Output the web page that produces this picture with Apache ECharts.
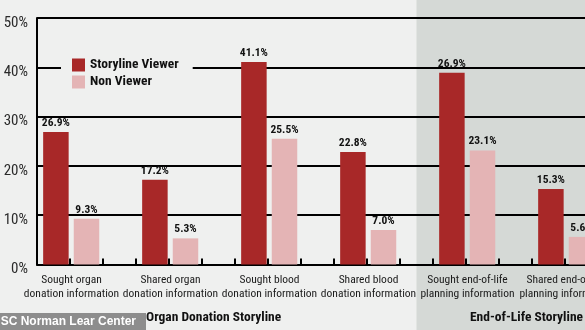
<!DOCTYPE html>
<html>
<head>
<meta charset="utf-8">
<script src="https://cdn.jsdelivr.net/npm/echarts@6/dist/echarts.min.js"></script>
<style>
  html, body { margin: 0; padding: 0; background: #eff0ef; }
  #chart { width: 585px; height: 330px; }
</style>
</head>
<body>
<div id="chart"></div>
<script>
// ---- data ----
const categories = [
  'Sought organ\ndonation information',
  'Shared organ\ndonation information',
  'Sought blood\ndonation information',
  'Shared blood\ndonation information',
  'Sought end-of-life\nplanning information',
  'Shared end-of-life\nplanning information'
];
// bar heights as drawn in the picture (5th bar is drawn at ~38.9 though labelled 26.9%)
const viewerValues = [26.9, 17.2, 41.1, 22.8, 38.9, 15.3];
const viewerLabels = ['26.9%', '17.2%', '41.1%', '22.8%', '26.9%', '15.3%'];
const nonViewerValues = [9.3, 5.3, 25.5, 7.0, 23.1, 5.6];
const nonViewerLabels = ['9.3%', '5.3%', '25.5%', '7.0%', '23.1%', '5.6%'];
const seriesNames = ['Storyline Viewer', 'Non Viewer'];
const groupTitles = ['Organ Donation Storyline', 'End-of-Life Storyline'];
const watermark = 'USC Norman Lear Center';
// tick slots: three per category (viewer bar, non-viewer bar, gap)
const tickSlots = [];
categories.forEach((c, i) => { tickSlots.push(i + 'a', i + 'b', i + 'c'); });

// ---- chart ----
const NARROW = "'Roboto Condensed', 'DejaVu Sans Condensed', sans-serif";
const DARK = '#a82828';
const PINK = '#e4b4b5';

const chart = echarts.init(document.getElementById('chart'), null, { renderer: 'canvas' });

const option = {
  backgroundColor: '#eff0ef',
  animation: false,
  grid: { left: 37, top: 18, width: 594, height: 246.5, containLabel: false, outerBoundsMode: 'none' },
  legend: {
    data: seriesNames,
    orient: 'vertical',
    left: 61,
    top: 52,
    padding: [6, 14, 6, 11],
    backgroundColor: '#eff0ef',
    itemWidth: 13,
    itemHeight: 13,
    itemGap: 3,
    icon: 'rect',
    textStyle: { fontFamily: NARROW, fontWeight: 'bold', fontSize: 13.5, color: '#111' }
  },
  xAxis: [
    {
      type: 'category',
      data: categories,
      axisLine: { show: true, lineStyle: { color: '#000', width: 2 } },
      axisTick: { show: false },
      axisLabel: {
        interval: 0,
        hideOverlap: false,
        fontFamily: NARROW,
        fontSize: 11.5,
        color: '#1a1a1a',
        lineHeight: 14.5,
        margin: 8,
        padding: [0, 30, 0, 0]
      },
      z: 3
    },
    {
      type: 'category',
      data: tickSlots,
      position: 'bottom',
      axisLine: { show: false },
      axisTick: { show: true, inside: true, length: 6, interval: 0, lineStyle: { color: '#000', width: 2 } },
      axisLabel: { show: false },
      splitLine: { show: false }
    }
  ],
  yAxis: {
    type: 'value',
    min: 0,
    max: 50,
    interval: 10,
    axisLine: { show: true, lineStyle: { color: '#000', width: 2 } },
    axisTick: { show: false },
    splitLine: { show: true, lineStyle: { color: '#000', width: 2 } },
    axisLabel: {
      formatter: '{value}%',
      fontFamily: NARROW,
      fontSize: 15,
      color: '#2a2a2a',
      margin: 9,
      verticalAlign: 'top',
      lineHeight: 10
    }
  },
  series: [
    {
      name: seriesNames[0],
      type: 'bar',
      xAxisIndex: 0,
      data: viewerValues,
      barWidth: 25.5,
      barGap: '20%',
      itemStyle: { color: DARK },
      label: {
        show: true, position: 'top', distance: 3,
        fontFamily: NARROW, fontWeight: 'bold', fontSize: 11.5, color: '#111',
        formatter: p => viewerLabels[p.dataIndex]
      },
      z: 5
    },
    {
      name: seriesNames[1],
      type: 'bar',
      xAxisIndex: 0,
      data: nonViewerValues,
      barWidth: 25.5,
      barGap: '20%',
      itemStyle: { color: PINK },
      label: {
        show: true, position: 'top', distance: 3,
        fontFamily: NARROW, fontWeight: 'bold', fontSize: 11.5, color: '#111',
        formatter: p => nonViewerLabels[p.dataIndex]
      },
      z: 5
    },
    {
      name: 'spacer',
      type: 'bar',
      xAxisIndex: 0,
      data: categories.map(() => '-'),
      barWidth: 25.5,
      barGap: '20%',
      silent: true,
      itemStyle: { opacity: 0 }
    }
  ]
};

chart.setOption(option);

// shaded background panel for the End-of-Life group: starts mid-way in the gap slot after category 4
const panelX = chart.convertToPixel({ xAxisIndex: 1 }, tickSlots[11]);
chart.setOption({
  graphic: [
    {
      type: 'rect', z: -10, silent: true,
      shape: { x: panelX, y: 0, width: 585 - panelX + 100, height: 330 },
      style: { fill: '#d5d9d6' }
    },
    {
      type: 'text', z: 100, silent: true,
      style: {
        text: groupTitles[0], x: 146, y: 318, align: 'left', verticalAlign: 'middle',
        font: 'bold 13.5px ' + NARROW, fill: '#111'
      }
    },
    {
      type: 'text', z: 100, silent: true,
      style: {
        text: groupTitles[1], x: 470, y: 318, align: 'left', verticalAlign: 'middle',
        font: 'bold 13.5px ' + NARROW, fill: '#111'
      }
    },
    {
      type: 'rect', z: 100, silent: true,
      shape: { x: 0, y: 313, width: 146, height: 17 },
      style: { fill: '#8d8d8d' }
    },
    {
      type: 'text', z: 101, silent: true,
      style: {
        text: watermark, x: -8, y: 322, align: 'left', verticalAlign: 'middle',
        font: 'bold 12px "Liberation Sans", Arial, sans-serif', fill: '#ffffff'
      }
    }
  ]
});
</script>
</body>
</html>
